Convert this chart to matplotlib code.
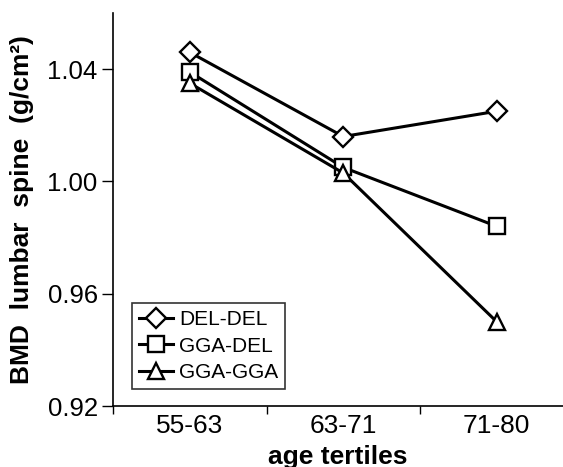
import matplotlib
matplotlib.use("Agg")
import matplotlib.pyplot as plt

plt.rcParams['font.family'] = ['Liberation Sans', 'DejaVu Sans']

# data
tertiles = ["55-63", "63-71", "71-80"]
del_del = [1.046, 1.016, 1.025]
gga_del = [1.039, 1.005, 0.984]
gga_gga = [1.035, 1.003, 0.950]

series = [
    ("DEL-DEL", del_del, "D", 10.5),
    ("GGA-DEL", gga_del, "s", 11),
    ("GGA-GGA", gga_gga, "^", 12),
]

fig = plt.figure(figsize=(5.63, 4.67), dpi=100)
ax = fig.add_axes([113 / 563, 1 - 406 / 467, 460.5 / 563, 393 / 467])

x = range(len(tertiles))
for name, vals, mk, ms in series:
    ax.plot(x, vals, color="black", lw=2.2, marker=mk, ms=ms,
            mfc="white", mec="black", mew=1.7, label=name)

ax.set_xlim(-0.5, 2.5)
ax.set_ylim(0.92, 1.06)
ax.set_yticks([0.92, 0.96, 1.00, 1.04])
ax.set_yticklabels(["0.92", "0.96", "1.00", "1.04"])
ax.set_xticks([0, 1, 2])
ax.set_xticklabels(tertiles)
ax.set_xticks([-0.5, 0.5, 1.5, 2.5], minor=True)
ax.tick_params(axis="x", which="major", length=0, labelsize=19, pad=6)
ax.tick_params(axis="x", which="minor", length=6, width=1, direction="out")
ax.tick_params(axis="y", length=8, width=1, direction="out", labelsize=18.5, pad=3)

for s in ["top", "right"]:
    ax.spines[s].set_visible(False)
for s in ["left", "bottom"]:
    ax.spines[s].set_linewidth(1.2)

ax.set_xlabel("age tertiles", fontsize=19, fontweight="bold")
ax.xaxis.set_label_coords(0.489, -0.098)
ax.xaxis.label.set_va("top")
ax.set_ylabel("BMD  lumbar  spine  (g/cm\u00b2)", fontsize=19, fontweight="bold", labelpad=10)

leg = ax.legend(loc="lower left", bbox_to_anchor=(0.041, 0.043), fontsize=15,
                frameon=True, fancybox=False, handlelength=1.6, handletextpad=0.3,
                borderpad=0.35, labelspacing=0.35, borderaxespad=0)
leg.get_frame().set_edgecolor("black")
leg.get_frame().set_linewidth(1.2)

fig.savefig("out.png", dpi=100)
